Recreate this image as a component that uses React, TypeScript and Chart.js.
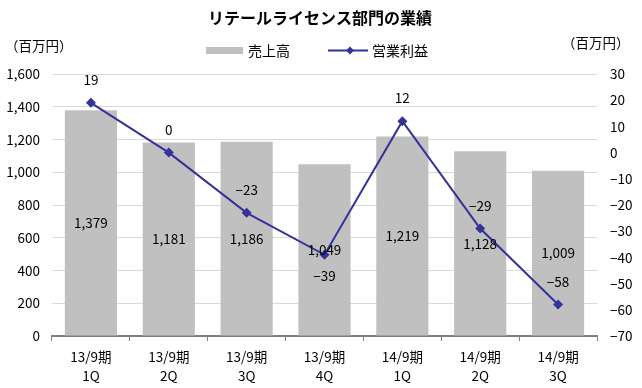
import React, { useEffect, useRef } from 'react';
import { Chart, registerables } from 'chart.js';

Chart.register(...registerables);

const chartTitle = 'リテールライセンス部門の業績';
const unitLabel = '（百万円）';
const periodLabels = ['13/9期', '13/9期', '13/9期', '13/9期', '14/9期', '14/9期', '14/9期'];
const quarterLabels = ['1Q', '2Q', '3Q', '4Q', '1Q', '2Q', '3Q'];
const salesName = '売上高';
const profitName = '営業利益';
const salesValues = [1379, 1181, 1186, 1049, 1219, 1128, 1009];
const profitValues = [19, 0, -23, -39, 12, -29, -58];
const profitLabelBelow = [false, false, false, true, false, false, false];

const FONT = '"Noto Sans CJK JP", "Noto Sans", sans-serif';
const BAR_COLOR = '#c0c0c0';
const LINE_COLOR = '#333399';

const fmtNum = (v: number) => {
  const s = Math.abs(v).toLocaleString('en-US');
  return v < 0 ? '\u2212' + s : s;
};

const overlayPlugin = {
  id: 'overlay',
  afterDatasetsDraw(chart: any) {
    const ctx = chart.ctx;
    ctx.save();
    ctx.fillStyle = '#000';
    ctx.textAlign = 'center';
    ctx.textBaseline = 'middle';
    ctx.font = `13.5px ${FONT}`;
    const barMeta = chart.getDatasetMeta(0);
    barMeta.data.forEach((el: any, i: number) => {
      const p = el.getProps(['x', 'y', 'base'], true);
      ctx.fillText(fmtNum(salesValues[i]), p.x, (p.y + p.base) / 2);
    });
    const lineMeta = chart.getDatasetMeta(1);
    lineMeta.data.forEach((el: any, i: number) => {
      const dy = profitLabelBelow[i] ? 21 : -23;
      ctx.fillText(fmtNum(profitValues[i]), el.x, el.y + dy);
    });

    // title
    ctx.font = `bold 16px ${FONT}`;
    ctx.fillText(chartTitle, 320, 18);

    // unit labels
    ctx.font = `13.5px ${FONT}`;
    ctx.textAlign = 'left';
    ctx.fillText(unitLabel, 5, 46);
    ctx.fillText(unitLabel, 562, 43);

    // legend
    ctx.fillStyle = BAR_COLOR;
    ctx.fillRect(206, 47, 37, 7);
    ctx.fillStyle = '#000';
    ctx.font = `14px ${FONT}`;
    ctx.fillText(salesName, 248, 51);
    ctx.strokeStyle = LINE_COLOR;
    ctx.lineWidth = 2;
    ctx.beginPath();
    ctx.moveTo(328, 50.5);
    ctx.lineTo(368, 50.5);
    ctx.stroke();
    ctx.fillStyle = LINE_COLOR;
    ctx.beginPath();
    ctx.moveTo(350, 46.5);
    ctx.lineTo(354, 50.5);
    ctx.lineTo(350, 54.5);
    ctx.lineTo(346, 50.5);
    ctx.closePath();
    ctx.fill();
    ctx.fillStyle = '#000';
    ctx.fillText(profitName, 372, 51);
    ctx.restore();
  },
};

export default function App() {
  const canvasRef = useRef<HTMLCanvasElement | null>(null);

  useEffect(() => {
    const canvas = canvasRef.current;
    if (!canvas) return;
    const labels = periodLabels.map((p, i) => [p, quarterLabels[i]]);
    const chart = new Chart(canvas, {
      type: 'bar',
      data: {
        labels,
        datasets: [
          {
            type: 'bar',
            label: salesName,
            data: salesValues,
            backgroundColor: BAR_COLOR,
            borderWidth: 0,
            yAxisID: 'y',
            categoryPercentage: 1,
            barPercentage: 0.67,
            order: 2,
          },
          {
            type: 'line',
            label: profitName,
            data: profitValues,
            borderColor: LINE_COLOR,
            backgroundColor: LINE_COLOR,
            borderWidth: 2,
            pointStyle: 'rectRot',
            pointRadius: 5,
            pointBorderWidth: 0,
            pointBackgroundColor: LINE_COLOR,
            yAxisID: 'y1',
            tension: 0,
            order: 1,
          } as any,
        ],
      },
      options: {
        responsive: false,
        animation: false,
        events: [],
        layout: { padding: { top: 74, left: 0, right: 0, bottom: 0 } },
        plugins: {
          legend: { display: false },
          title: { display: false },
          tooltip: { enabled: false },
        },
        scales: {
          x: {
            offset: true,
            grid: {
              display: true,
              drawOnChartArea: false,
              drawTicks: true,
              tickLength: 5,
              color: '#808080',
              offset: true,
            },
            border: { display: true, color: '#808080', width: 2 },
            ticks: {
              color: '#000',
              font: { family: FONT, size: 13.5, lineHeight: 1.45 },
              padding: 6,
              maxRotation: 0,
              autoSkip: false,
            },
            afterFit: (s: any) => {
              s.height = 52;
            },
          },
          y: {
            position: 'left',
            min: 0,
            max: 1600,
            grid: { color: '#d9d9d9', drawTicks: false, lineWidth: 1 },
            border: { display: false },
            ticks: {
              stepSize: 200,
              padding: 12,
              color: '#000',
              font: { family: FONT, size: 13.5 },
              callback: (v: any) => fmtNum(Number(v)),
            },
            afterFit: (s: any) => {
              s.width = 52;
            },
          },
          y1: {
            position: 'right',
            min: -70,
            max: 30,
            grid: { display: false, drawTicks: false },
            border: { display: false },
            ticks: {
              stepSize: 10,
              padding: 13,
              color: '#000',
              font: { family: FONT, size: 13.5 },
              callback: (v: any) => fmtNum(Number(v)),
            },
            afterFit: (s: any) => {
              s.width = 45;
            },
          },
        },
      },
      plugins: [overlayPlugin],
    });
    return () => chart.destroy();
  }, []);

  return (
    <div style={{ position: 'absolute', left: 0, top: 0, width: 642, height: 388, background: '#fff' }}>
      <canvas ref={canvasRef} width={642} height={388} />
    </div>
  );
}
